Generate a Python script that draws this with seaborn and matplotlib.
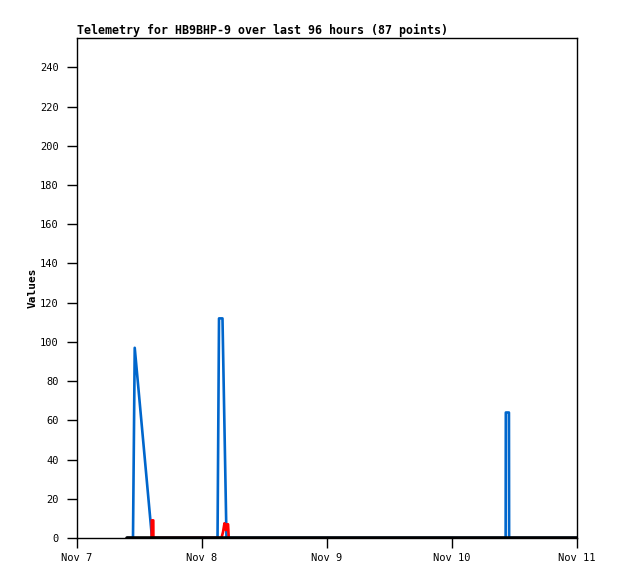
import pandas as pd
import matplotlib
matplotlib.use("Agg")
import matplotlib.pyplot as plt
import matplotlib.dates as mdates
import seaborn as sns

# blue channel
blue_times = ["2023-11-07 09:36", "2023-11-07 10:45", "2023-11-07 11:05", "2023-11-07 14:24",
              "2023-11-08 02:59", "2023-11-08 03:16", "2023-11-08 03:56", "2023-11-08 04:42",
              "2023-11-10 10:18", "2023-11-10 10:20", "2023-11-10 10:56", "2023-11-10 10:58",
              "2023-11-10 23:59"]
blue_values = [0, 0, 97, 0, 0, 112, 112, 0, 0, 64, 64, 0, 0]

# red channel
red_times = ["2023-11-07 14:20", "2023-11-07 14:21", "2023-11-07 14:39", "2023-11-07 14:40",
             "2023-11-08 03:44", "2023-11-08 04:02", "2023-11-08 04:19", "2023-11-08 04:36",
             "2023-11-08 04:48", "2023-11-08 05:00", "2023-11-08 05:08"]
red_values = [0, 9, 9, 0, 0, 3, 7.5, 4, 7, 7, 0]

# black channel (always zero)
black_times = ["2023-11-07 09:36", "2023-11-11 00:00"]
black_values = [0, 0]

sns.set_style("white")
plt.rcParams['font.family'] = ['DejaVu Sans Mono', 'DejaVu Sans']
plt.rcParams['text.color'] = 'black'
plt.rcParams['axes.labelcolor'] = 'black'
plt.rcParams['xtick.color'] = 'black'
plt.rcParams['ytick.color'] = 'black'

blue = pd.DataFrame({'t': pd.to_datetime(blue_times), 'v': blue_values})
red = pd.DataFrame({'t': pd.to_datetime(red_times), 'v': red_values})
black = pd.DataFrame({'t': pd.to_datetime(black_times), 'v': black_values})

fig = plt.figure(figsize=(6.18, 5.79), dpi=100)
ax = fig.add_axes([77/618, 1-538/579, 500/618, 500/579])

sns.lineplot(data=blue, x='t', y='v', color='#0066CC', linewidth=1.9, estimator=None, ax=ax)
sns.lineplot(data=red, x='t', y='v', color='#FF0000', linewidth=1.9, estimator=None, ax=ax)
sns.lineplot(data=black, x='t', y='v', color='black', linewidth=2.6, estimator=None, ax=ax)

ax.set_xlim(pd.Timestamp("2023-11-07"), pd.Timestamp("2023-11-11"))
ax.set_ylim(0, 255)
ax.set_yticks(range(0, 241, 20))
ax.xaxis.set_major_locator(mdates.DayLocator())
ax.xaxis.set_major_formatter(mdates.DateFormatter('%b %-d'))

for s in ax.spines.values():
    s.set_visible(True)
    s.set_color('black')
    s.set_linewidth(1)

ax.tick_params(axis='both', direction='out', length=7, width=1, colors='black',
               labelsize=7.5, pad=6, left=True, bottom=True)
ax.tick_params(axis='x', pad=4)

ax.set_xlabel('')
ax.set_ylabel('Values', fontsize=8, fontweight='bold', labelpad=1.5)
ax.set_title('Telemetry for HB9BHP-9 over last 96 hours (87 points)', loc='left',
             fontsize=8.4, fontweight='bold', pad=3)

fig.savefig('out.png', dpi=100)
